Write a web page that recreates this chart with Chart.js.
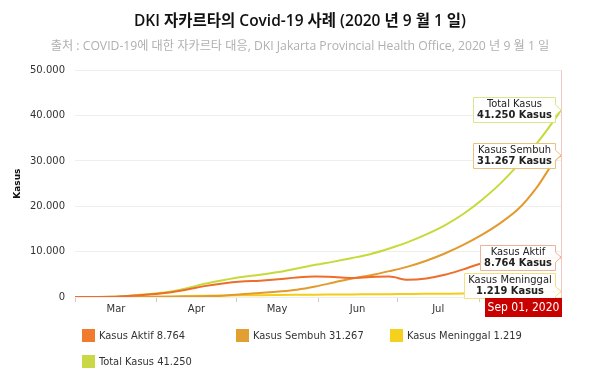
<!DOCTYPE html>
<html>
<head>
<meta charset="utf-8">
<script src="https://cdn.jsdelivr.net/npm/chart.js@4/dist/chart.umd.min.js"></script>
<style>
  html, body { margin: 0; padding: 0; background: #fff; }
  #wrap { width: 600px; height: 373px; position: relative; }
</style>
</head>
<body>
<div id="wrap"><canvas id="chart"></canvas></div>
<script>
// weekly readings, Mar 1 - Sep 1 2020
var dates = ['2020-03-01', '2020-03-08', '2020-03-15', '2020-03-22', '2020-03-29',
  '2020-04-05', '2020-04-12', '2020-04-19', '2020-04-26', '2020-05-03', '2020-05-10',
  '2020-05-17', '2020-05-24', '2020-05-31', '2020-06-07', '2020-06-14', '2020-06-21',
  '2020-06-28', '2020-07-05', '2020-07-12', '2020-07-19', '2020-07-26', '2020-08-02',
  '2020-08-09', '2020-08-16', '2020-08-23', '2020-08-30', '2020-09-01'];
var aktif = [0, 5, 35, 250, 550, 950, 1600, 2400, 3000, 3400, 3600, 3900, 4300, 4500,
  4400, 4200, 4400, 4500, 3800, 4100, 4900, 6100, 7400, 7900, 8200, 8400, 8650, 8764];
var sembuh = [0, 0, 0, 10, 30, 60, 100, 180, 300, 600, 900, 1200, 1600, 2300, 3200,
  4100, 4800, 5700, 6700, 8000, 9600, 11500, 13700, 16300, 19500, 24300, 30300, 31267];
var meninggal = [0, 0, 2, 30, 70, 90, 200, 270, 330, 390, 410, 440, 480, 520, 540, 560,
  600, 630, 660, 690, 730, 770, 820, 880, 980, 1080, 1200, 1219];
var total = [0, 5, 40, 300, 650, 1100, 1900, 2900, 3700, 4400, 4900, 5500, 6300, 7100,
  7800, 8600, 9500, 10700, 12100, 13800, 15800, 18300, 21400, 25000, 29300, 34000, 39500, 41250];

var monthStarts = ['2020-03-01', '2020-04-01', '2020-05-01', '2020-06-01', '2020-07-01', '2020-08-01', '2020-09-01'];
var monthLabels = ['Mar', 'Apr', 'May', 'Jun', 'Jul', 'Aug'];
var yTicks = [0, 10000, 20000, 30000, 40000, 50000];
var lastLabel = 'Sep 01, 2020';

var t0 = Date.parse(dates[0]);
var dayOf = d => Math.round((Date.parse(d) - t0) / 864e5);
var days = dates.map(dayOf);
var startDays = monthStarts.map(dayOf);
var midDays = monthLabels.map((m, i) => (startDays[i] + startDays[i + 1]) / 2);

var fmt = v => String(v).replace(/\B(?=(\d{3})+(?!\d))/g, '.');
var pts = arr => arr.map((v, i) => ({ x: days[i], y: v }));

var FONT = '"DejaVu Sans Condensed", "DejaVu Sans"';
var AXFONT = '"DejaVu Sans"';

var series = [
  { name: 'Kasus Aktif', data: aktif, color: '#ee6d2a', legend: '#f07a2e', box: '#eab39a' },
  { name: 'Kasus Sembuh', data: sembuh, color: '#e39a2c', legend: '#e2a032', box: '#ebc07c' },
  { name: 'Kasus Meninggal', data: meninggal, color: '#f4cd17', legend: '#f5d01c', box: '#f3e07e' },
  { name: 'Total Kasus', data: total, color: '#c6da3a', legend: '#cbd846', box: '#dbe58c' }
];

var overlay = {
  id: 'overlay',
  afterDraw(chart) {
    var ctx = chart.ctx, a = chart.chartArea;
    var xs = chart.scales.x, ys = chart.scales.y;
    var xr = Math.round(xs.getPixelForValue(days[days.length - 1]));
    ctx.save();
    // today marker
    ctx.strokeStyle = 'rgba(236,150,150,0.55)';
    ctx.lineWidth = 1;
    ctx.beginPath();
    ctx.moveTo(xr + 0.5, a.top);
    ctx.lineTo(xr + 0.5, a.bottom);
    ctx.stroke();

    // callouts at line ends, top to bottom
    [3, 1, 0, 2].forEach(i => {
      var s = series[i];
      var last = s.data[s.data.length - 1];
      var l1 = s.name, l2 = fmt(last) + ' Kasus';
      ctx.font = '11px ' + FONT;
      var w1 = ctx.measureText(l1).width;
      ctx.font = 'bold 11px ' + FONT;
      var w2 = ctx.measureText(l2).width;
      var w = Math.max(w1, w2) + 8, h = 25;
      var right = xr - 5.5, left = Math.round(right - w) + 0.5;
      var cy = ys.getPixelForValue(last);
      var top = Math.round(cy - h / 2) + 0.5;
      if (top + h > a.bottom + 1) top = Math.round(a.bottom + 1 - h) + 0.5;
      var bot = top + h;
      ctx.beginPath();
      ctx.moveTo(left, top);
      ctx.lineTo(right, top);
      ctx.lineTo(right, Math.max(top, cy - 5));
      ctx.lineTo(xr, cy);
      ctx.lineTo(right, Math.min(bot, cy + 5));
      ctx.lineTo(right, bot);
      ctx.lineTo(left, bot);
      ctx.closePath();
      ctx.fillStyle = 'rgba(255,255,255,0.95)';
      ctx.fill();
      ctx.strokeStyle = s.box;
      ctx.stroke();
      ctx.fillStyle = '#222';
      ctx.textAlign = 'center';
      ctx.textBaseline = 'middle';
      var cx = (left + right) / 2;
      ctx.font = '11px ' + FONT;
      ctx.fillText(l1, cx, top + 7);
      ctx.font = 'bold 11px ' + FONT;
      ctx.fillText(l2, cx, top + 18);
    });

    // date badge
    var bw = 77, bh = 19;
    ctx.fillStyle = '#c80000';
    ctx.fillRect(xr + 1 - bw, a.bottom + 1, bw, bh);
    ctx.fillStyle = '#fff';
    ctx.font = '12px ' + FONT;
    ctx.textAlign = 'center';
    ctx.textBaseline = 'middle';
    ctx.fillText(lastLabel, xr + 1 - bw / 2, a.bottom + 1 + bh / 2);

    // legend
    ctx.font = '11px ' + FONT;
    ctx.textAlign = 'left';
    series.forEach((s, i) => {
      var col = i % 3, row = Math.floor(i / 3);
      var x = 82 + col * 154, y = 335 + row * 26;
      ctx.fillStyle = s.legend;
      ctx.fillRect(x, y - 6, 13, 13);
      ctx.fillStyle = '#333';
      ctx.fillText(s.name + ' ' + fmt(s.data[s.data.length - 1]), x + 17, y + 1);
    });
    ctx.restore();
  }
};

new Chart(document.getElementById('chart'), {
  type: 'line',
  data: {
    datasets: series.map(s => ({
      label: s.name,
      data: pts(s.data),
      borderColor: s.color,
      backgroundColor: s.color,
      borderWidth: 2,
      pointRadius: 0,
      cubicInterpolationMode: 'monotone',
      fill: false
    }))
  },
  options: {
    responsive: true,
    maintainAspectRatio: false,
    animation: false,
    layout: { padding: { left: 0, right: 0, top: 0, bottom: 57 } },
    plugins: {
      legend: { display: false },
      tooltip: { enabled: false },
      title: {
        display: true,
        text: 'DKI 자카르타의 Covid-19 사례 (2020 년 9 월 1 일)',
        color: '#111',
        font: { family: '"Open Sans", "Noto Sans CJK KR"', size: 15.5, weight: '600' },
        padding: { top: 12, bottom: 6 }
      },
      subtitle: {
        display: true,
        text: '출처 : COVID-19에 대한 자카르타 대응, DKI Jakarta Provincial Health Office, 2020 년 9 월 1 일',
        color: '#b0b0b0',
        font: { family: '"Open Sans", "Noto Sans CJK KR"', size: 12.2 },
        padding: { top: 3, bottom: 16 }
      }
    },
    scales: {
      x: {
        type: 'linear',
        min: startDays[0],
        max: startDays[startDays.length - 1],
        afterBuildTicks: axis => {
          axis.ticks = startDays.map(v => ({ value: v, major: true }))
            .concat(midDays.map(v => ({ value: v })));
        },
        grid: {
          drawOnChartArea: false,
          drawTicks: true,
          tickLength: 5,
          tickColor: c => (c.tick && c.tick.major) ? '#ccc' : 'rgba(0,0,0,0)'
        },
        border: { display: false },
        ticks: {
          autoSkip: false,
          maxRotation: 0,
          padding: 1,
          color: '#333',
          font: { family: AXFONT, size: 10 },
          callback: function (v) {
            var i = midDays.indexOf(v);
            return i >= 0 ? monthLabels[i] : '';
          }
        }
      },
      y: {
        min: 0,
        max: 50000,
        afterBuildTicks: axis => { axis.ticks = yTicks.map(v => ({ value: v })); },
        afterFit: axis => { axis.width = 75; },
        grid: { color: '#eeeeee', drawTicks: false },
        border: { display: false },
        ticks: {
          padding: 10,
          color: '#333',
          font: { family: AXFONT, size: 10 },
          callback: v => fmt(v)
        },
        title: {
          display: true,
          text: 'Kasus',
          color: '#111',
          font: { family: AXFONT, size: 9, weight: 'bold' },
          padding: { top: 12, bottom: 0 }
        }
      },
      yr: {
        position: 'right',
        display: true,
        afterFit: axis => { axis.width = 39; },
        grid: { display: false },
        border: { display: false },
        ticks: { display: false }
      }
    }
  },
  plugins: [overlay]
});
</script>
</body>
</html>
